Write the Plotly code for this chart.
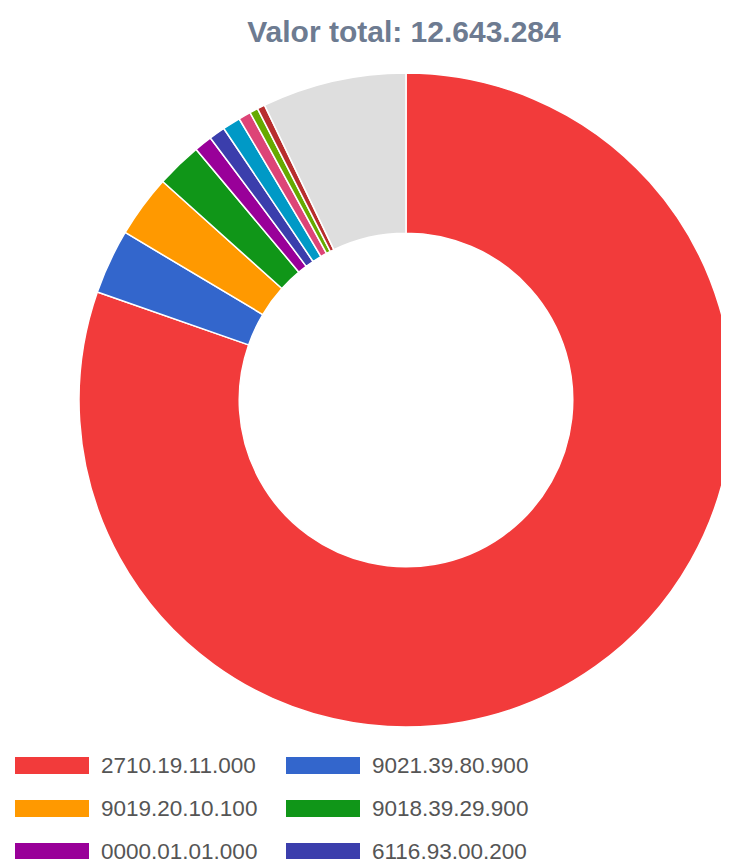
import plotly.graph_objects as go

# ---- data ----
labels = [
    "2710.19.11.000", "9021.39.80.900", "9019.20.10.100", "9018.39.29.900",
    "0000.01.01.000", "6116.93.00.200", "Produto 7", "Produto 8",
    "Produto 9", "Produto 10", "Outros",
]
values = [10160000, 405000, 390000, 285000, 113000, 101000, 112000, 77000,
          52000, 48000, 900284]
colors = ["#f23b3b", "#3366cc", "#ff9900", "#109618", "#990099", "#3b3eac",
          "#0099c6", "#dd4477", "#66aa00", "#b82e2e", "#dedede"]
title_text = "Valor total: 12.643.284"
legend_count = 6  # entries visible in the cropped legend

W, H = 729, 859
OFF = 8  # page body margin offset
ML, MR, MT, MB = 71, 4, 65, 140
PW = W - ML - MR
PH = H - MT - MB

fig = go.Figure(go.Pie(
    labels=labels,
    values=values,
    hole=0.51,
    sort=False,
    direction="clockwise",
    rotation=0,
    marker=dict(colors=colors, line=dict(color="white", width=1.5)),
    textinfo="none",
    showlegend=False,
))

def px_x(px):
    return (px - OFF - ML) / PW

def px_y(py):
    return (H - MB - (py - OFF)) / PH

shapes = []
annotations = []
col_x = [15, 286]
row_y = [765.5, 808.5, 851.5]
sw_w, sw_h = 74, 17
for i in range(legend_count):
    r, c = divmod(i, 2)
    x0 = col_x[c]
    yc = row_y[r]
    shapes.append(dict(
        type="rect", xref="paper", yref="paper",
        x0=px_x(x0), x1=px_x(x0 + sw_w),
        y0=px_y(yc + sw_h / 2), y1=px_y(yc - sw_h / 2),
        fillcolor=colors[i], line=dict(width=0),
    ))
    annotations.append(dict(
        xref="paper", yref="paper",
        x=px_x(x0 + sw_w + 10), y=px_y(yc),
        xanchor="left", yanchor="middle",
        text=labels[i], showarrow=False,
        font=dict(family="Arial, Liberation Sans", size=22.5, color="#555555"),
    ))

fig.update_layout(
    width=W, height=H,
    margin=dict(l=ML, r=MR, t=MT, b=MB),
    paper_bgcolor="white",
    plot_bgcolor="white",
    title=dict(
        text="<b>" + title_text + "</b>",
        x=(404 - OFF) / W, xanchor="center", xref="container",
        y=1 - (31 - OFF) / H, yanchor="middle", yref="container",
        font=dict(family="Arial, Liberation Sans", size=30, color="#6d7b91"),
    ),
    shapes=shapes,
    annotations=annotations,
)

fig.write_html("out.html")
